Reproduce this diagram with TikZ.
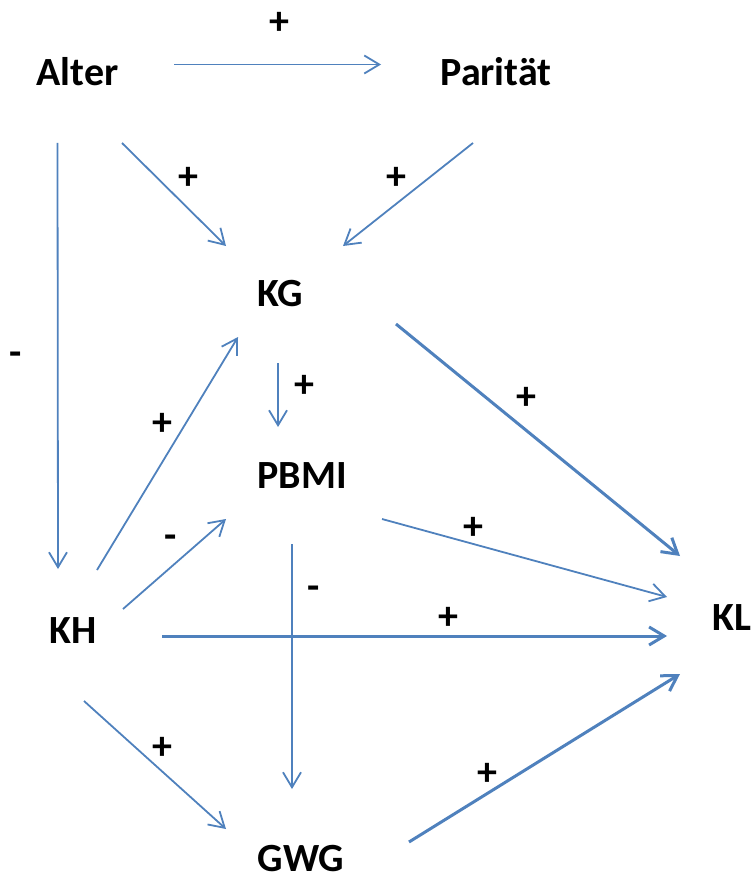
\documentclass[tikz,border=0pt]{standalone}
\usepackage{fontspec}
\setmainfont{Carlito}
\usetikzlibrary{arrows.meta, calc}
\definecolor{linkblue}{RGB}{79, 129, 189}

\begin{document}
\begin{tikzpicture}[
  x=1pt, y=-1pt,
  var/.style={anchor=base, inner sep=0pt, font=\fontsize{40}{48}\selectfont\bfseries},
  sign/.style={inner sep=0pt, font=\fontsize{40}{48}\selectfont\bfseries},
  arr/.style={-{Straight Barb[length=15pt, width=18pt]}, line width=1.8pt, linkblue},
  heavy/.style={arr, line width=3pt}
]
  \useasboundingbox (0,0) rectangle (752,877);

  % variables
  \node[var] (Alter) at (77.5,86) {Alter};
  \node[var] (Par)   at (496,86)  {Parität};
  \node[var] (KG)    at (280,306) {KG};
  \node[var] (PBMI)  at (302,488) {PBMI};
  \node[var] (KH)    at (73,643)  {KH};
  \node[var] (KL)    at (732,630) {KL};
  \node[var] (GWG)   at (301,871) {GWG};

  % effects
  \draw[arr] ($(Alter.base)+(96.5,-21.5)$) -- ($(Par.base)+(-115,-21.5)$);
  \draw[arr] ($(Alter.base)+(-20,57)$) -- ($(KH.base)+(-15,-74)$);
  \draw[arr] ($(Alter.base)+(44.5,57)$) -- ($(KG.base)+(-54,-60)$);
  \draw[arr] ($(Par.base)+(-23,57)$) -- ($(KG.base)+(63,-60)$);
  \draw[arr] ($(KG.base)+(-2,57)$) -- ($(PBMI.base)+(-24,-61)$);
  \draw[heavy] ($(KG.base)+(116,18)$) -- ($(KL.base)+(-52,-74)$);
  \draw[arr] ($(KH.base)+(24,-73)$) -- ($(KG.base)+(-42,31)$);
  \draw[arr] ($(KH.base)+(50,-34)$) -- ($(PBMI.base)+(-76,31)$);
  \draw[arr] ($(PBMI.base)+(80,31)$) -- ($(KL.base)+(-65,-33)$);
  \draw[heavy] ($(KH.base)+(89,-7)$) -- ($(KL.base)+(-65,6)$);
  \draw[arr] ($(PBMI.base)+(-10,56)$) -- ($(GWG.base)+(-9,-82)$);
  \draw[arr] ($(KH.base)+(11,58)$) -- ($(GWG.base)+(-75,-42)$);
  \draw[heavy] ($(GWG.base)+(108,-29)$) -- ($(KL.base)+(-52,44)$);

  % signs
  \node[sign] (s1)  at (279,23)  {+};
  \node[sign] (s2)  at (188,178) {+};
  \node[sign] (s3)  at (396,178) {+};
  \node[sign] (s4)  at (16,359)  {-};
  \node[sign] (s5)  at (304,386) {+};
  \node[sign] (s6)  at (162,424) {+};
  \node[sign] (s7)  at (171,542) {-};
  \node[sign] (s8)  at (526,398) {+};
  \node[sign] (s9)  at (473,528) {+};
  \node[sign] (s10) at (448,618) {+};
  \node[sign] (s11) at (314,593) {-};
  \node[sign] (s12) at (162,748) {+};
  \node[sign] (s13) at (487,774) {+};
\end{tikzpicture}
\end{document}
